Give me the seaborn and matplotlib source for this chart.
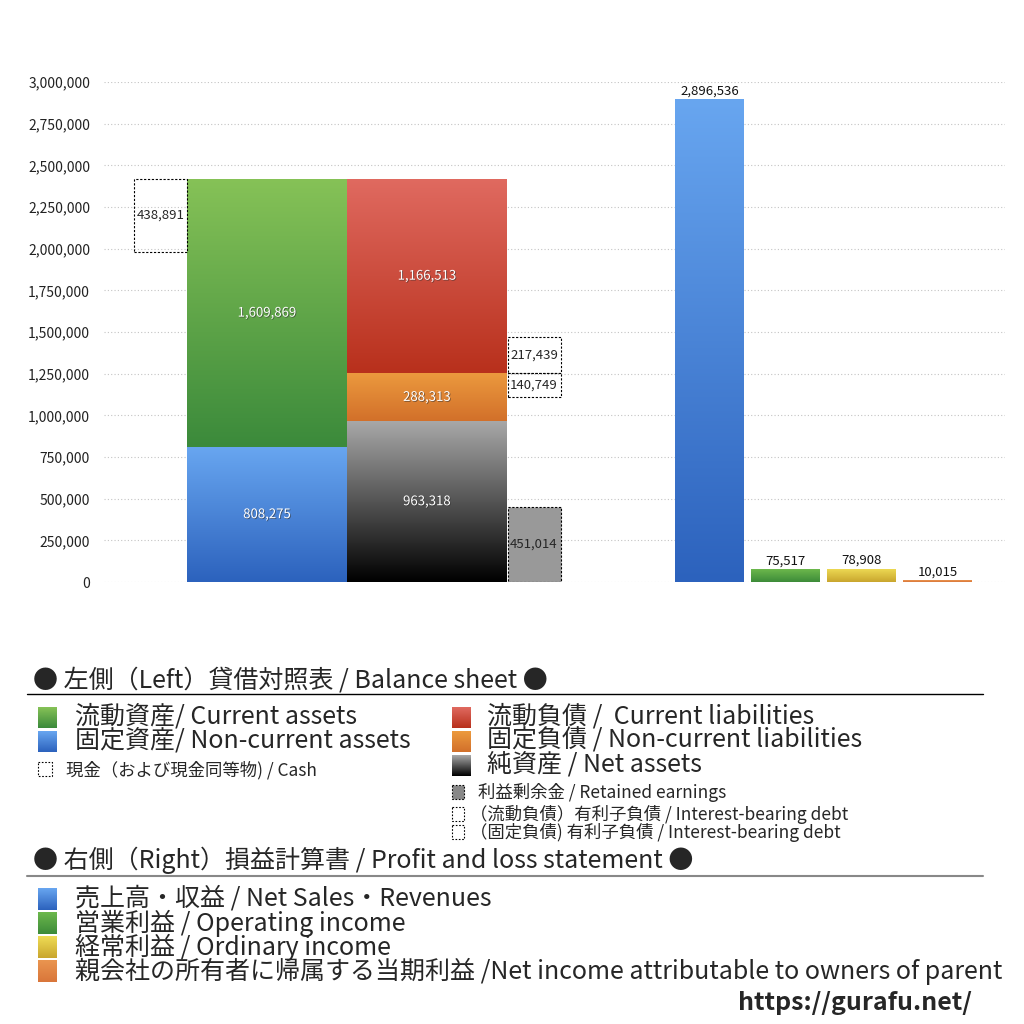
import numpy as np
import matplotlib
matplotlib.use("Agg")
import matplotlib.pyplot as plt
import seaborn as sns
from matplotlib.colors import LinearSegmentedColormap
from matplotlib.ticker import FuncFormatter
import matplotlib.patheffects as pe

# balance sheet (left)
current_assets = 1609869
noncurrent_assets = 808275
cash = 438891
current_liab = 1166513
noncurrent_liab = 288313
net_assets = 963318
retained = 451014
debt_current = 217439
debt_noncurrent = 140749

# profit and loss (right)
pl_names = ["売上高・収益", "営業利益", "経常利益", "当期利益"]
pl_values = [2896536, 75517, 78908, 10015]

yticks = list(range(0, 3000001, 250000))

sns.set_theme(style="white")
plt.rcParams['font.family'] = ['Noto Sans CJK JP', 'DejaVu Sans']

GREEN = ("#86c257", "#3b8a3b")
BLUE = ("#68a6f0", "#2c62bd")
RED = ("#e06a60", "#b8301c")
ORANGE = ("#ec9a3e", "#d2702a")
BLACK = ("#a8a8a8", "#000000")
YELLOW = ("#efdc55", "#c9a62e")
PLGREEN = ("#6cb84c", "#3d8b39")
PLORANGE = ("#ea9550", "#d9763a")


def fill_gradient(ax, patch, top, bottom, z=2):
    x0, y0 = patch.get_x(), patch.get_y()
    w, h = patch.get_width(), patch.get_height()
    cmap = LinearSegmentedColormap.from_list("g", [bottom, top])
    im = ax.imshow(np.linspace(0, 1, 256).reshape(-1, 1), cmap=cmap, origin="lower",
                   extent=[x0, x0 + w, y0, y0 + h], aspect="auto", zorder=z)
    im.set_clip_path(patch)


fig = plt.figure(figsize=(10.24, 10.24), dpi=100)
ax = fig.add_axes([104 / 1024, 442 / 1024, 901 / 1024, 500 / 1024])

# column layout (x units are pixels of the original drawing)
x_cash, w_side = 160.5, 53
x_assets, x_liab, w_main = 267, 427, 160
x_side = 534
pl_x = [709.5, 785.5, 861.5, 937.5]
w_pl = 69

shadow = [pe.withSimplePatchShadow(offset=(0.6, -0.6), shadow_rgbFace="#333333", alpha=0.6)]
vfs = 9.5

# assets column
b = ax.bar(x_assets, noncurrent_assets, w_main, color="none", linewidth=0)[0]
fill_gradient(ax, b, *BLUE)
ax.text(x_assets, noncurrent_assets / 2, f"{noncurrent_assets:,}", ha="center", va="center",
        color="white", fontsize=vfs, path_effects=shadow, zorder=5)
b = ax.bar(x_assets, current_assets, w_main, bottom=noncurrent_assets, color="none", linewidth=0)[0]
fill_gradient(ax, b, *GREEN)
ax.text(x_assets, noncurrent_assets + current_assets / 2, f"{current_assets:,}", ha="center",
        va="center", color="white", fontsize=vfs, path_effects=shadow, zorder=5)

total_assets = current_assets + noncurrent_assets
ax.bar(x_cash, cash, w_side, bottom=total_assets - cash, fill=False, edgecolor="black",
       linewidth=0.8, linestyle=(0, (2, 1.5)), zorder=3)
ax.text(x_cash, total_assets - cash / 2, f"{cash:,}", ha="center", va="center", fontsize=vfs, zorder=5)

# liabilities + net assets column
stack = [(net_assets, BLACK), (noncurrent_liab, ORANGE), (current_liab, RED)]
bottom = 0
for val, cols in stack:
    b = ax.bar(x_liab, val, w_main, bottom=bottom, color="none", linewidth=0)[0]
    fill_gradient(ax, b, *cols)
    ax.text(x_liab, bottom + val / 2, f"{val:,}", ha="center", va="center", color="white",
            fontsize=vfs, path_effects=shadow, zorder=5)
    bottom += val

ax.bar(x_side, retained, w_side, color="#999999", edgecolor="black", linewidth=0.8,
       linestyle=(0, (2, 1.5)), zorder=3)
ax.text(x_side, retained / 2, f"{retained:,}", ha="center", va="center", fontsize=vfs, zorder=5)

split = net_assets + noncurrent_liab
ax.bar(x_side, debt_current, w_side, bottom=split, fill=False, edgecolor="black", linewidth=0.8,
       linestyle=(0, (2, 1.5)), zorder=3)
ax.text(x_side, split + debt_current / 2, f"{debt_current:,}", ha="center", va="center", fontsize=vfs, zorder=5)
ax.bar(x_side, debt_noncurrent, w_side, bottom=split - debt_noncurrent, fill=False, edgecolor="black",
       linewidth=0.8, linestyle=(0, (2, 1.5)), zorder=3)
ax.text(x_side, split - debt_noncurrent / 2, f"{debt_noncurrent:,}", ha="center", va="center", fontsize=vfs, zorder=5)

# profit and loss bars
sns.barplot(x=pl_x, y=pl_values, native_scale=True, width=w_pl / 76, color="white",
            errorbar=None, ax=ax, linewidth=0)
pl_cols = [BLUE, PLGREEN, YELLOW, PLORANGE]
for p, cols, v in zip(ax.patches[-4:], pl_cols, pl_values):
    p.set_facecolor("none")
    fill_gradient(ax, p, *cols)
    ax.annotate(f"{v:,}", (p.get_x() + p.get_width() / 2, v), xytext=(0, 1.5),
                textcoords="offset points", ha="center", va="bottom", fontsize=vfs, color="#111111")

ax.set_xlim(104, 1005)
ax.set_ylim(0, 3000000)
ax.set_yticks(yticks)
ax.yaxis.set_major_formatter(FuncFormatter(lambda v, _: f"{int(v):,}"))
ax.tick_params(axis="y", length=0, pad=10, labelsize=10, labelcolor="#222222")
ax.set_xticks([])
ax.set_xlabel("")
ax.set_ylabel("")
ax.grid(axis="y", linestyle=(0, (1, 2)), color="#c4c4c4", linewidth=0.8)
ax.set_axisbelow(True)
sns.despine(ax=ax, left=True, bottom=True)

# legend area drawn in pixel coordinates
ov = fig.add_axes([0, 0, 1, 1])
ov.axis("off")


def square(x0, y0, x1, y1, cols):
    cmap = LinearSegmentedColormap.from_list("s", [cols[0], cols[1]])
    ov.imshow(np.linspace(0, 1, 64).reshape(-1, 1), cmap=cmap, origin="upper",
              extent=[x0, x1, y1, y0], aspect="auto")


def dashed(x0, y0, x1, y1, face="none"):
    ov.add_patch(plt.Rectangle((x0, y0), x1 - x0, y1 - y0, facecolor=face, edgecolor="black",
                               linewidth=0.8, linestyle=(0, (1.5, 1.5))))


big = 18
small = 12.5
ov.text(33, 680, "● 左側（Left）貸借対照表 / Balance sheet ●", fontsize=big, va="center")
ov.plot([27, 983], [694, 694], color="black", linewidth=1)

square(38, 707, 57, 728, GREEN)
ov.text(75, 717, "流動資産/ Current assets", fontsize=big, va="center")
square(38, 731, 57, 752, BLUE)
ov.text(75, 741, "固定資産/ Non-current assets", fontsize=big, va="center")
dashed(38, 762, 52, 776)
ov.text(66, 770, "現金（および現金同等物) / Cash", fontsize=small, va="center")

square(452, 707, 471, 728, RED)
ov.text(487, 717, "流動負債 /  Current liabilities", fontsize=big, va="center")
square(452, 731, 471, 752, ORANGE)
ov.text(487, 741, "固定負債 / Non-current liabilities", fontsize=big, va="center")
square(452, 755, 471, 776, BLACK)
ov.text(487, 765, "純資産 / Net assets", fontsize=big, va="center")
dashed(452, 785, 464, 799, face="#888888")
ov.text(478, 792, "利益剰余金 / Retained earnings", fontsize=small, va="center")
dashed(452, 807, 464, 821)
ov.text(470, 814, "（流動負債）有利子負債 / Interest-bearing debt", fontsize=small, va="center")
dashed(452, 825, 464, 839)
ov.text(470, 832, "（固定負債) 有利子負債 / Interest-bearing debt", fontsize=small, va="center")

ov.text(33, 860, "● 右側（Right）損益計算書 / Profit and loss statement ●", fontsize=big, va="center")
ov.plot([27, 983], [876, 876], color="#888888", linewidth=1.5)

pl_labels = ["売上高・収益 / Net Sales・Revenues", "営業利益 / Operating income",
             "経常利益 / Ordinary income", "親会社の所有者に帰属する当期利益 /Net income attributable to owners of parent"]
for i, (lab, cols) in enumerate(zip(pl_labels, pl_cols)):
    yc = 899 + 24 * i
    square(38, yc - 11, 57, yc + 11, cols)
    ov.text(75, yc, lab, fontsize=big, va="center")

ov.text(972, 1003, "https://gurafu.net/", fontsize=18, fontweight="bold", ha="right", va="center")

ov.set_xlim(0, 1024)
ov.set_ylim(1024, 0)

fig.savefig("out.png", dpi=100)
